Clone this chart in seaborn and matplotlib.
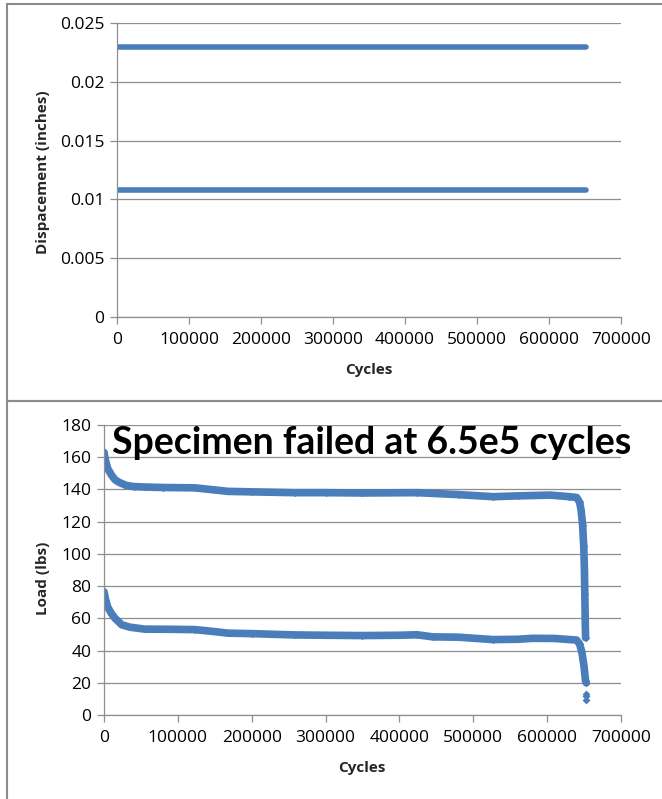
import matplotlib
matplotlib.use('Agg')
import matplotlib.pyplot as plt
import matplotlib.patches as mpatches
import seaborn as sns
import pandas as pd

# ---- data ----
disp_cycles = [0, 100000, 200000, 300000, 400000, 500000, 600000, 652000]
disp_max = [0.0230, 0.0230, 0.0230, 0.0230, 0.0230, 0.0230, 0.0230, 0.0230]
disp_min = [0.0108, 0.0108, 0.0108, 0.0108, 0.0108, 0.0108, 0.0108, 0.0108]

load_max_cycles = [0, 2000, 5000, 10000, 15000, 20000, 30000, 40000, 55000, 80000,
                   123000, 168000, 200000, 258000, 300000, 349000, 424000, 480000,
                   527000, 560000, 604000, 630000, 640000, 644000, 646000, 648000,
                   649500, 650500, 651000, 651500, 652000]
load_max = [163, 158, 153, 149, 146, 144.5, 142.5, 141.8, 141.5, 141.2,
            141, 138.8, 138.5, 138, 138, 137.8, 138, 136.8,
            135.5, 136, 136.5, 135.5, 135, 132, 127, 118,
            105, 90, 75, 60, 48]

load_min_cycles = [0, 2000, 5000, 10000, 15000, 24000, 35000, 55000, 90000, 123000,
                   145000, 168000, 200000, 258000, 300000, 349000, 400000, 424000,
                   445000, 480000, 527000, 560000, 581000, 610000, 640000, 644000,
                   647000, 650000, 652000, 653000]
load_min = [76.5, 72, 67, 63, 60, 56, 54.5, 53.3, 53.2, 53.0,
            52, 50.8, 50.5, 49.7, 49.5, 49.3, 49.5, 49.8,
            48.5, 48.3, 46.8, 47, 47.6, 47.5, 46.5, 44,
            39, 30, 21, 20]
outlier_cycles = [653000, 653000, 653000]
outlier_load = [13, 11.5, 9.5]

disp_ticks = [0, 0.005, 0.01, 0.015, 0.02, 0.025]
disp_ticklabels = ['0', '0.005', '0.01', '0.015', '0.02', '0.025']
load_ticks = [0, 20, 40, 60, 80, 100, 120, 140, 160, 180]
cycle_ticks = [0, 100000, 200000, 300000, 400000, 500000, 600000, 700000]

BLUE = '#4A7EBB'
GRID = '#8E8E8E'

sns.set_style('white')
plt.rcParams['font.family'] = ['Open Sans', 'DejaVu Sans']

W, H = 662, 799
fig = plt.figure(figsize=(W / 100, H / 100), dpi=100)


def px_axes(left, top, right, bottom):
    return fig.add_axes([left / W, 1 - bottom / H, (right - left) / W, (bottom - top) / H])


def style_axes(ax, yticks, ylabels, ylim):
    ax.set_xlim(0, 700000)
    ax.set_ylim(*ylim)
    ax.set_xticks(cycle_ticks)
    ax.set_xticklabels([str(t) for t in cycle_ticks])
    ax.set_yticks(yticks)
    ax.set_yticklabels(ylabels)
    ax.grid(False)
    ax.yaxis.grid(True, color=GRID, lw=0.9)
    ax.set_axisbelow(True)
    for s in ['top', 'right']:
        ax.spines[s].set_visible(False)
    for s in ['left', 'bottom']:
        ax.spines[s].set_color(GRID)
        ax.spines[s].set_linewidth(0.9)
    ax.tick_params(axis='both', which='major', length=5, width=0.9, color=GRID,
                   labelsize=12.5, labelcolor='black', direction='out',
                   left=True, bottom=True)
    ax.tick_params(axis='x', pad=6)
    ax.tick_params(axis='y', pad=4)
    ax.set_xlabel('')
    ax.set_ylabel('')


# ---- top panel: displacement ----
ax1 = px_axes(117, 23, 621, 317)
for vals in (disp_max, disp_min):
    sns.lineplot(x=disp_cycles, y=vals, ax=ax1, color=BLUE, lw=4, sort=False,
                 solid_capstyle='round', legend=False)
style_axes(ax1, disp_ticks, disp_ticklabels, (0, 0.025))

# ---- bottom panel: load ----
ax2 = px_axes(104, 425, 621, 715)
df_max = pd.DataFrame({'cycles': load_max_cycles, 'load': load_max})
df_min = pd.DataFrame({'cycles': load_min_cycles, 'load': load_min})
for df in (df_max, df_min):
    sns.lineplot(data=df, x='cycles', y='load', ax=ax2, color=BLUE, lw=5.5, sort=False,
                 solid_capstyle='round', solid_joinstyle='round', legend=False)
    sns.scatterplot(data=df, x='cycles', y='load', ax=ax2, color=BLUE, s=14,
                    marker='D', linewidth=0, legend=False)
sns.scatterplot(x=outlier_cycles, y=outlier_load, ax=ax2, color=BLUE, s=16,
                marker='D', linewidth=0, legend=False)
style_axes(ax2, load_ticks, [str(t) for t in load_ticks], (0, 180))

# ---- axis titles ----
fig.text(43 / W, 1 - 172 / H, 'Dispacement (inches)', rotation=90, ha='center',
         va='center', fontsize=11, fontweight='bold')
fig.text(369 / W, 1 - 370 / H, 'Cycles', ha='center', va='center',
         fontsize=11, fontweight='bold')
fig.text(43 / W, 1 - 578 / H, 'Load (lbs)', rotation=90, ha='center',
         va='center', fontsize=11, fontweight='bold')
fig.text(362 / W, 1 - 768 / H, 'Cycles', ha='center', va='center',
         fontsize=11, fontweight='bold')

# annotation text box
fig.text(112 / W, 1 - 454 / H, 'Specimen failed at 6.5e5 cycles', ha='left',
         va='baseline', fontsize=27, fontweight='bold', color='black',
         family=['Lato', 'DejaVu Sans'])

# ---- chart frames ----
for top, bottom in ((4, 401), (401, 860)):
    fig.patches.append(mpatches.Rectangle((7 / W, 1 - bottom / H), 1.2, (bottom - top) / H,
                                          transform=fig.transFigure, fill=False,
                                          edgecolor='#8C8C8C', lw=1.5))

fig.savefig('out.png', dpi=100)
